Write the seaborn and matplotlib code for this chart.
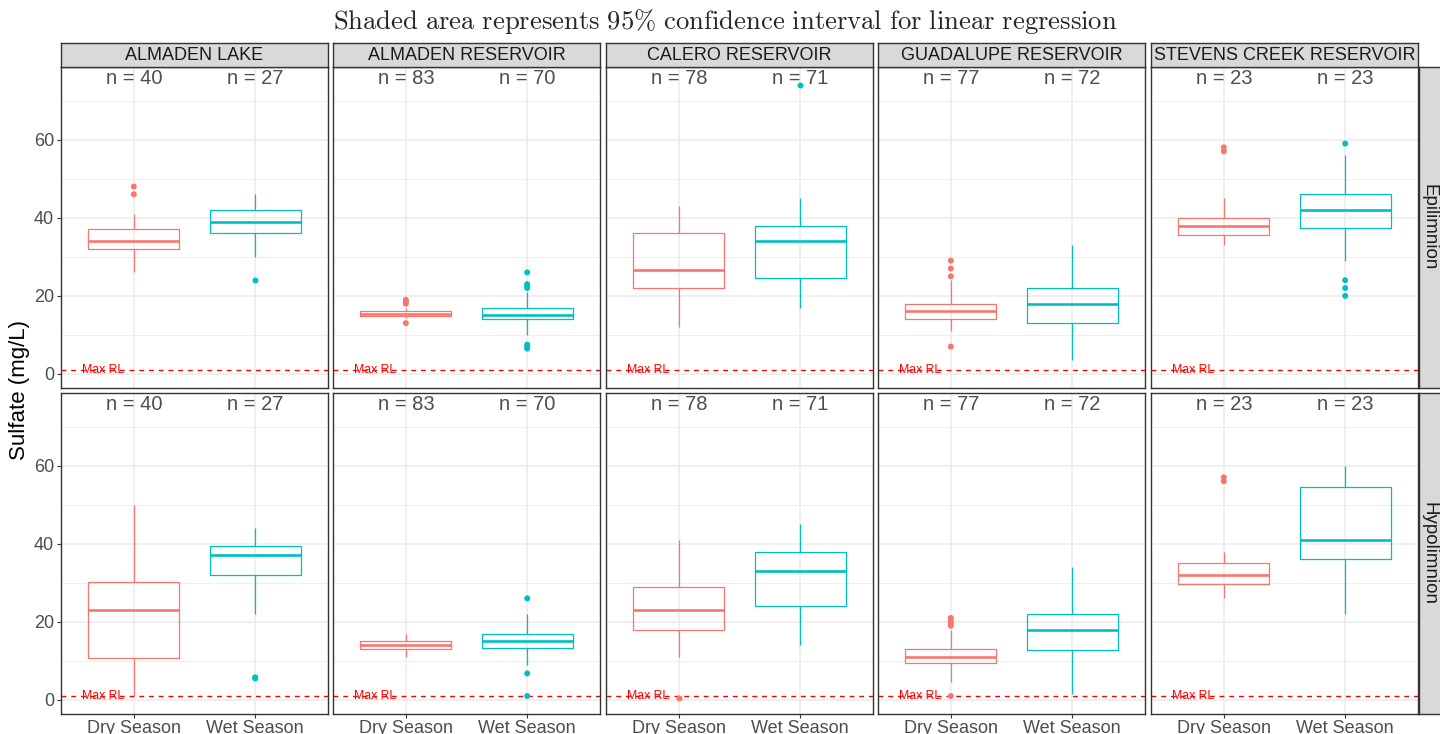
import numpy as np
import pandas as pd
import matplotlib
matplotlib.use("Agg")
import matplotlib.pyplot as plt
import seaborn as sns
from matplotlib.ticker import FixedLocator

# ---------------- data ----------------
sites = ["ALMADEN LAKE", "ALMADEN RESERVOIR", "CALERO RESERVOIR",
         "GUADALUPE RESERVOIR", "STEVENS CREEK RESERVOIR"]
layers = ["Epilimnion", "Hypolimnion"]
seasons = ["Dry Season", "Wet Season"]

# five-number summaries: [lower whisker, Q1, median, Q3, upper whisker]
epi_dry = [[26, 32, 34, 37, 41], [14.3, 14.9, 15.3, 16, 17], [12, 22, 26.5, 36, 43],
           [11, 14, 16, 18, 24], [33, 35.5, 38, 40, 45]]
epi_wet = [[30, 36, 39, 42, 46], [10, 14, 15, 17, 21], [17, 24.5, 34, 38, 45],
           [3.5, 13, 18, 22, 33], [29, 37.5, 42, 46, 56]]
hypo_dry = [[1, 10.7, 23, 30.3, 50], [11, 13, 14, 15, 17], [11, 18, 23, 29, 41],
            [4.7, 9.4, 11, 13, 18], [26, 29.6, 32, 35, 38]]
hypo_wet = [[22, 32, 37, 39.5, 44], [9, 13.2, 15, 17, 22], [14, 24, 33, 38, 45],
            [1.5, 12.8, 18, 22, 34], [22, 36, 41, 54.5, 60]]

# outliers
epi_dry_out = [[46, 48], [13, 18, 18.5, 19], [], [7, 25, 27, 29], [57, 58]]
epi_wet_out = [[24], [6.5, 7, 7.5, 22, 22.5, 23, 26], [74], [], [20, 22, 24, 59]]
hypo_dry_out = [[], [], [0.6], [1, 19, 19.7, 20.3, 21], [56, 57]]
hypo_wet_out = [[5.5, 5.8], [1, 6.8, 26], [], [], []]

n_dry = [40, 83, 78, 77, 23]
n_wet = [27, 70, 71, 72, 23]

max_rl = 1.0

title = r"$\mathrm{Shaded\ area\ represents\ 95\%\ confidence\ interval\ for\ linear\ regression}$"
ylabel = "Sulfate (mg/L)"

palette = {"Dry Season": "#F8766D", "Wet Season": "#00BFC4"}

# ---------------- style ----------------
sns.set_theme(style="white")
plt.rcParams["font.family"] = ["Liberation Sans", "DejaVu Sans"]
plt.rcParams["mathtext.fontset"] = "cm"

W, H = 1440, 734
fig = plt.figure(figsize=(W / 100, H / 100), dpi=100)


def add_ax(l, t, w, h):
    return fig.add_axes([l / W, 1 - (t + h) / H, w / W, h / H])


col_left = [61, 333, 606, 878, 1151]
pw = 267
row_top = [67, 393]
ph = 321
strip_col = "#D9D9D9"
frame_col = "#333333"
text_gray = "#4D4D4D"

stats = {"Epilimnion": (epi_dry, epi_wet, epi_dry_out, epi_wet_out),
         "Hypolimnion": (hypo_dry, hypo_wet, hypo_dry_out, hypo_wet_out)}

for r, layer in enumerate(layers):
    dry, wet, dry_out, wet_out = stats[layer]
    for c, site in enumerate(sites):
        ax = add_ax(col_left[c], row_top[r], pw, ph)
        box_df = pd.DataFrame({
            "season": ["Dry Season"] * 5 + ["Wet Season"] * 5,
            "value": list(dry[c]) + list(wet[c]),
        })
        sns.boxplot(data=box_df, x="season", y="value", hue="season",
                    order=seasons, hue_order=seasons, palette=palette,
                    fill=False, width=0.75, whis=(0, 100), showcaps=False,
                    linewidth=0.9, medianprops={"linewidth": 1.9},
                    saturation=1, legend=False, ax=ax, zorder=3)
        out_df = pd.DataFrame({
            "season": ["Dry Season"] * len(dry_out[c]) + ["Wet Season"] * len(wet_out[c]),
            "value": list(dry_out[c]) + list(wet_out[c]),
        })
        if len(out_df):
            sns.stripplot(data=out_df, x="season", y="value", hue="season",
                          order=seasons, hue_order=seasons, palette=palette,
                          jitter=False, size=4.3, linewidth=0, legend=False,
                          ax=ax, zorder=4)

        ax.axhline(max_rl, color="red", lw=1.0, ls=(0, (3.5, 3.5)), zorder=2)
        ax.text(-0.25, max_rl, "Max RL", color="red", fontsize=8.8,
                ha="center", va="center", zorder=5)
        ax.text(0, 75.6, f"n = {n_dry[c]}", ha="center", va="center",
                fontsize=14.5, color=text_gray)
        ax.text(1, 75.6, f"n = {n_wet[c]}", ha="center", va="center",
                fontsize=14.5, color=text_gray)

        ax.set_xlim(-0.6, 1.6)
        ax.set_ylim(-3.6, 78.6)
        ax.set_xlabel("")
        ax.set_ylabel("")
        ax.set_facecolor("white")
        ax.set_axisbelow(True)
        ax.set_xticks([0, 1])
        ax.yaxis.set_major_locator(FixedLocator([0, 20, 40, 60]))
        ax.yaxis.set_minor_locator(FixedLocator([10, 30, 50, 70]))
        ax.grid(True, which="major", color="#EBEBEB", lw=1.1)
        ax.grid(True, which="minor", axis="y", color="#EBEBEB", lw=0.6)
        ax.tick_params(which="minor", length=0, left=False, bottom=False)
        for sp in ax.spines.values():
            sp.set_color(frame_col)
            sp.set_linewidth(1.0)

        show_x = (r == 1)
        show_y = (c == 0)
        ax.tick_params(axis="x", bottom=show_x, labelbottom=show_x, length=3,
                       width=0.8, color=frame_col, labelcolor=text_gray,
                       labelsize=13, pad=1.5)
        ax.tick_params(axis="y", left=show_y, labelleft=show_y, length=3,
                       width=0.8, color=frame_col, labelcolor=text_gray,
                       labelsize=13, pad=2)
        if not show_x:
            ax.set_xticklabels([])

        # top strips
        if r == 0:
            sax = add_ax(col_left[c], 43, pw, 24)
            sax.set_facecolor(strip_col)
            sax.set_xticks([]); sax.set_yticks([])
            for sp in sax.spines.values():
                sp.set_color(frame_col); sp.set_linewidth(1.0)
            sax.text(0.5, 0.5, site, ha="center", va="center", fontsize=13,
                     color="#1A1A1A", transform=sax.transAxes)

    # right strips
    rax = add_ax(1419, row_top[r], 22, ph)
    rax.set_facecolor(strip_col)
    rax.set_xticks([]); rax.set_yticks([])
    for sp in rax.spines.values():
        sp.set_color(frame_col); sp.set_linewidth(1.0)
    rax.text(0.45, 0.5, layer, ha="center", va="center", rotation=270,
             fontsize=13.5, color="#1A1A1A", transform=rax.transAxes)

fig.text(725.5 / W, 1 - 21 / H, title, ha="center", va="center", fontsize=19.2)
fig.text(20 / W, 1 - 390.5 / H, ylabel, rotation=90, ha="center", va="center",
         fontsize=16, color="black")

fig.savefig("out.png", dpi=100)
